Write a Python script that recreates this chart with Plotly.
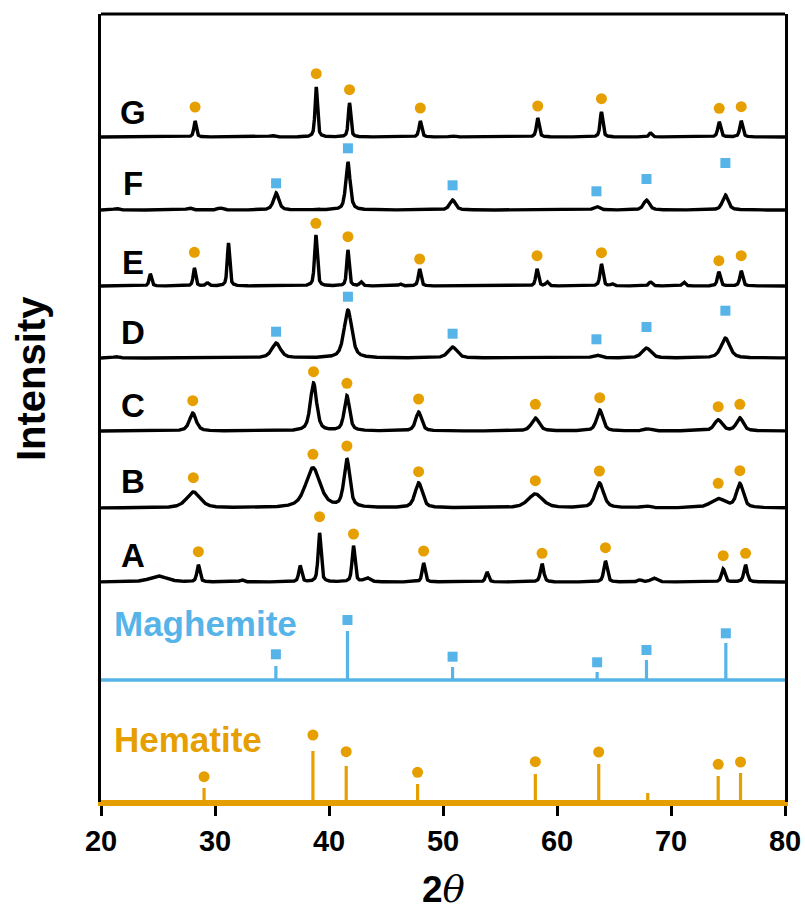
import numpy as np
import plotly.graph_objects as go

# ---------------- data ----------------
# Each sample: peaks as (2theta, intensity, FWHM); phase marks as positions + marker heights
G_peaks = [(28.25, 16, 0.25), (35.0, 1.5, 0.5), (38.88, 50, 0.25), (41.80, 34, 0.25),
           (48.01, 16, 0.28), (50.8, 1.2, 0.5), (58.31, 19, 0.28), (63.90, 25, 0.28),
           (68.20, 4, 0.3), (74.23, 15, 0.3), (76.16, 16, 0.3)]
G_hem_x = [28.25, 38.88, 41.80, 48.01, 58.31, 63.90, 74.23, 76.16]
G_hem_y = [30, 63.3, 47.3, 29, 31, 38.3, 28.7, 30.3]

F_peaks = [(21.32, 1.5, 0.5), (27.73, 2, 0.5), (30.45, 2, 0.5), (35.36, 17, 0.55),
           (38.95, 1, 0.4), (41.66, 48, 0.45), (50.84, 10, 0.6), (63.46, 3.5, 0.6),
           (67.85, 10, 0.6), (74.77, 15, 0.6)]
F_mag_x = [35.36, 41.66, 50.84, 63.46, 67.85, 74.77]
F_mag_y = [26.7, 61.7, 24.7, 18.7, 31, 47]

E_peaks = [(24.33, 12, 0.25), (28.19, 18, 0.25), (29.33, 3, 0.3), (31.18, 43, 0.25),
           (38.85, 51, 0.28), (41.66, 36, 0.25), (42.80, 4, 0.3), (46.25, 2, 0.3),
           (47.95, 17, 0.28), (58.25, 17, 0.28), (59.13, 4, 0.3), (63.90, 22, 0.3),
           (64.84, 2, 0.3), (68.20, 4, 0.35), (71.12, 4, 0.3), (74.20, 14, 0.3),
           (76.16, 15, 0.3)]
E_hem_x = [28.19, 38.85, 41.66, 47.95, 58.25, 63.90, 74.20, 76.16]
E_hem_y = [33.7, 62.7, 49.3, 27, 30.3, 33.3, 25.3, 30.3]

D_peaks = [(21.32, 1.5, 0.5), (35.36, 15, 0.9), (41.66, 48, 0.8), (50.84, 11, 0.9),
           (63.46, 3, 0.8), (67.85, 10, 0.9), (74.77, 20, 0.9)]
D_mag_x = [35.36, 41.66, 50.84, 63.46, 67.85, 74.77]
D_mag_y = [26.3, 61.3, 24.3, 18.7, 31, 47.3]

C_peaks = [(28.05, 18, 0.7), (38.64, 48, 0.65), (41.57, 35, 0.55), (47.86, 19, 0.6),
           (58.10, 13, 0.8), (63.75, 21, 0.65), (67.96, 2, 0.8), (74.14, 11, 0.8),
           (76.04, 13, 0.7)]
C_hem_x = [28.05, 38.64, 41.57, 47.86, 58.10, 63.75, 74.14, 76.04]
C_hem_y = [30.3, 59.3, 47.7, 32, 26.7, 33.3, 24.3, 26.7]

B_peaks = [(28.10, 16, 1.4), (38.59, 40, 1.5), (41.57, 48, 0.6), (47.86, 25, 0.75),
           (58.10, 14, 1.5), (63.72, 25, 0.85), (67.76, 2, 0.8), (74.14, 9, 1.5),
           (76.04, 24, 0.7)]
B_hem_x = [28.10, 38.59, 41.57, 47.86, 58.10, 63.72, 74.14, 76.04]
B_hem_y = [30.3, 53.7, 62, 36.3, 27.3, 37, 24.7, 37.3]

A_peaks = [(25.03, 6, 1.8), (28.54, 17, 0.3), (32.35, 2, 0.4), (37.47, 16, 0.3),
           (39.17, 49, 0.3), (42.15, 36, 0.3), (43.33, 4, 0.6), (48.30, 19, 0.3),
           (53.86, 10, 0.3), (58.69, 18, 0.35), (64.25, 21, 0.35), (67.26, 2, 0.4),
           (68.49, 4, 0.6), (74.58, 13, 0.35), (76.54, 17, 0.35)]
A_hem_x = [28.54, 39.17, 42.15, 48.30, 58.69, 64.25, 74.58, 76.54]
A_hem_y = [30.3, 65.3, 48, 31, 28.7, 34.3, 26.3, 28.7]

# Reference stick patterns
mag_ref_x = [35.34, 41.62, 50.84, 63.52, 67.85, 74.81]
mag_ref_h = [14, 49, 13, 8, 20, 37]
mag_mark_y = [25.7, 60, 23.3, 17.7, 30, 46.7]

hem_ref_x = [29.04, 38.59, 41.51, 45.72, 47.77, 50.93, 58.10, 63.66, 67.09, 67.96, 74.14, 76.10]
hem_ref_h = [14, 51, 36, 1, 18, 1, 28, 38, 2, 9, 26, 29]
hem_mark_x = [29.04, 38.59, 41.51, 47.77, 58.10, 63.66, 74.14, 76.10]
hem_mark_y = [25.3, 67, 50.3, 29.7, 40.3, 50, 37.7, 40]

x_ticks = [20, 30, 40, 50, 60, 70, 80]

# ---------------- styling / layout ----------------
ORANGE = "#E69F00"
BLUE = "#56B4E9"
FONT = "Liberation Sans, Arial, sans-serif"

# vertical stacking offsets (baseline of each trace) and label heights
samples = [
    ("G", G_peaks, 665, "hem", G_hem_x, G_hem_y, 690),
    ("F", F_peaks, 592, "mag", F_mag_x, F_mag_y, 619),
    ("E", E_peaks, 516, "hem", E_hem_x, E_hem_y, 540),
    ("D", D_peaks, 444, "mag", D_mag_x, D_mag_y, 470),
    ("C", C_peaks, 371, "hem", C_hem_x, C_hem_y, 397),
    ("B", B_peaks, 294, "hem", B_hem_x, B_hem_y, 321),
    ("A", A_peaks, 220, "hem", A_hem_x, A_hem_y, 247),
]
MAG_BASE = 122
HEM_BASE = 0
LW = 3.4

tt = np.linspace(20, 80, 6001)


def pattern(peaks, eta=0.6):
    y = np.zeros_like(tt)
    for pos, h, w in peaks:
        d = (tt - pos) / (w / 2)
        y += h * (eta / (1 + d ** 2) + (1 - eta) * np.exp(-np.log(2) * d ** 2))
    return y


fig = go.Figure()


def add_marks(xs, ys, base, kind):
    if kind == "hem":
        mk = dict(symbol="circle", size=11, color=ORANGE, line=dict(width=0))
    else:
        mk = dict(symbol="square", size=10, color=BLUE, line=dict(width=0))
    fig.add_trace(go.Scatter(x=xs, y=[base + v for v in ys], mode="markers",
                             marker=mk, showlegend=False, hoverinfo="skip"))


def add_sticks(xs, hs, base, color, width):
    sx, sy = [], []
    for p, h in zip(xs, hs):
        sx += [p, p, None]
        sy += [base, base + h, None]
    fig.add_trace(go.Scatter(x=[20, 80], y=[base, base], mode="lines",
                             line=dict(color=color, width=width),
                             showlegend=False, hoverinfo="skip"))
    fig.add_trace(go.Scatter(x=sx, y=sy, mode="lines",
                             line=dict(color=color, width=3.2),
                             showlegend=False, hoverinfo="skip"))


annotations = []
for name, peaks, base, kind, mx, my, ly in samples:
    fig.add_trace(go.Scatter(x=tt, y=base + pattern(peaks), mode="lines",
                             line=dict(color="black", width=LW),
                             showlegend=False, hoverinfo="skip"))
    add_marks(mx, my, base, kind)
    annotations.append(dict(x=22.8, y=ly, xref="x", yref="y", text=name,
                            showarrow=False, xanchor="center", yanchor="middle",
                            font=dict(family=FONT, size=33, color="black", weight="bold")))

add_sticks(mag_ref_x, mag_ref_h, MAG_BASE, BLUE, 3.4)
add_marks(mag_ref_x, mag_mark_y, MAG_BASE, "mag")
add_sticks(hem_ref_x, hem_ref_h, HEM_BASE, ORANGE, 4)
add_marks(hem_mark_x, hem_mark_y, HEM_BASE, "hem")

annotations += [
    dict(x=21.0, y=179, xref="x", yref="y", text="Maghemite", showarrow=False,
         xanchor="left", yanchor="middle",
         font=dict(family=FONT, size=35, color=BLUE, weight="bold")),
    dict(x=21.0, y=63, xref="x", yref="y", text="Hematite", showarrow=False,
         xanchor="left", yanchor="middle",
         font=dict(family=FONT, size=35, color=ORANGE, weight="bold")),
    dict(x=-0.1024, y=0.538, xref="paper", yref="paper", text="Intensity",
         showarrow=False, textangle=-90, xanchor="center", yanchor="middle",
         font=dict(family=FONT, size=40, color="black", weight="bold")),
    dict(x=0.5, y=-0.111, xref="paper", yref="paper",
         text="2<span style='font-family:DejaVu Serif;font-style:italic;font-weight:normal'>θ</span>",
         showarrow=False, xanchor="center", yanchor="middle",
         font=dict(family=FONT, size=37, color="black", weight="bold")),
]

fig.update_layout(
    width=805, height=911,
    margin=dict(l=101, r=20, t=14, b=109, autoexpand=False),
    paper_bgcolor="white", plot_bgcolor="white",
    annotations=annotations,
    shapes=[dict(type="line", xref="paper", yref="paper", x0=0, x1=1, y0=1, y1=1,
                 line=dict(color="black", width=3))],
)
fig.update_xaxes(range=[20, 80], tickvals=x_ticks, ticks="outside", ticklen=10,
                 tickwidth=3, tickcolor="black", showline=True, linecolor=ORANGE,
                 linewidth=4, mirror=False, showgrid=False, zeroline=False,
                 automargin=False,
                 tickfont=dict(family=FONT, size=29, color="black", weight="bold"))
fig.update_yaxes(range=[0, 788], showticklabels=False, ticks="", showline=True,
                 linecolor="black", linewidth=3, mirror=True, showgrid=False,
                 zeroline=False, automargin=False)

fig.write_html("out.html")
